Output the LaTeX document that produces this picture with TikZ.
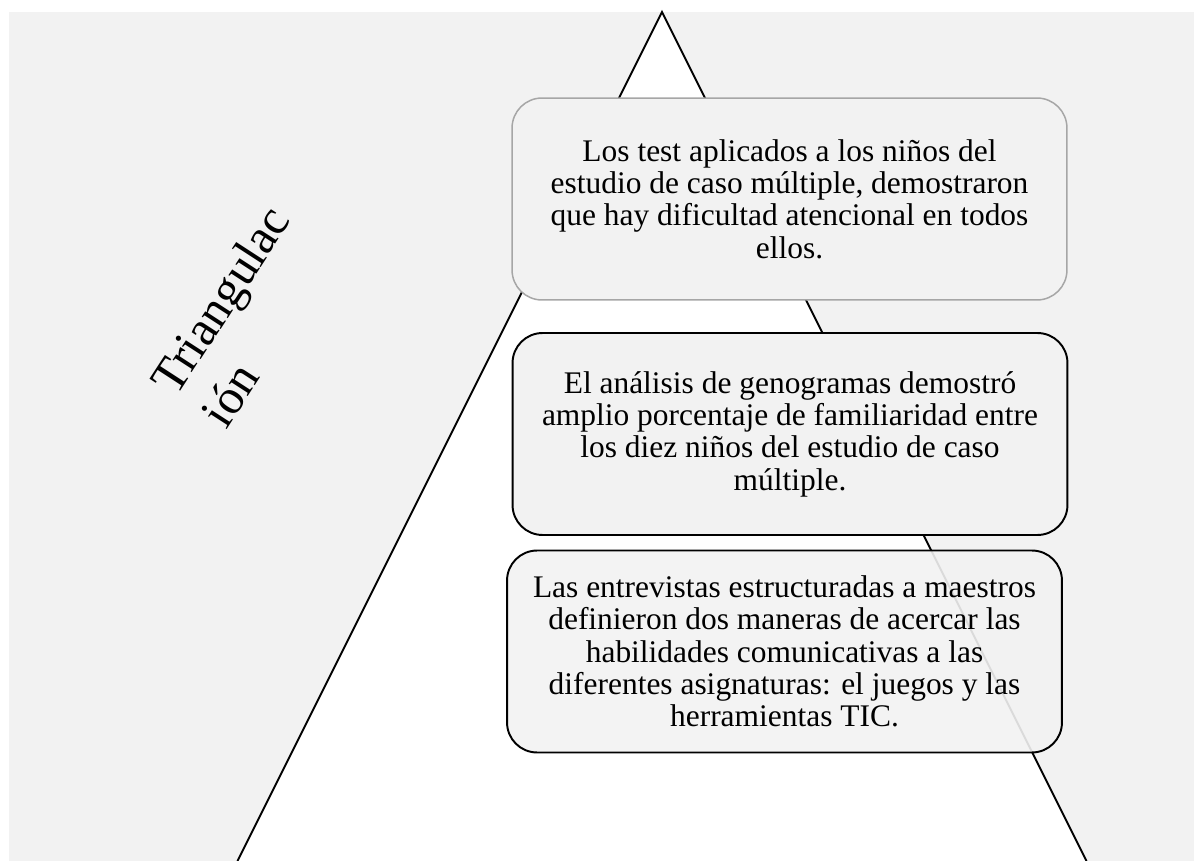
\documentclass[tikz,border=0pt]{standalone}
\usepackage{fontspec}
\setmainfont{Liberation Serif}
\usepackage{xcolor}
\usetikzlibrary{positioning}
\definecolor{bggray}{HTML}{F2F2F2}
\definecolor{edgegray}{HTML}{A6A6A6}

\begin{document}
\begin{tikzpicture}[
    x=0.02cm, y=-0.02cm,
    box/.style={rectangle, draw=black, line width=1.1pt, fill=bggray, rounded corners=0.6cm, minimum width=11.1cm, minimum height=4.04cm, inner sep=0pt, align=center, font=\fontsize{17.9}{18.4}\selectfont},
    tri/.style={draw=black, line width=1.1pt, fill=white},
    title/.style={rotate=57, align=left, font=\fontsize{28}{34}\selectfont}
]

% Background
\useasboundingbox (0,0) rectangle (1194,861);
\fill[bggray] (9,12) rectangle (1194,861);

% Triangle
\coordinate (apex) at (662,12);
\coordinate (baseL) at (237.5,861);
\coordinate (baseR) at (1086.5,861);
\draw[tri] (baseL) -- (apex) -- (baseR);

% Nodes
\node[box, draw=edgegray, line width=0.85pt] (tests) at (789.5,199) {Los test aplicados a los niños del\\estudio de caso múltiple, demostraron\\que hay dificultad atencional en todos\\ellos.};
\node[box] (genogramas) at (790,434) {El análisis de genogramas demostró\\amplio porcentaje de familiaridad entre\\los diez niños del estudio de caso\\múltiple.};
\node[box, fill opacity=0.9, text opacity=1] (entrevistas) at (784.5,651.5) {Las entrevistas estructuradas a maestros\\definieron dos maneras de acercar las\\habilidades comunicativas a las\\diferentes asignaturas: el juegos y las\\herramientas TIC.};
\node[title] (triang) at (245,316) {Triangulac\\ión};

\end{tikzpicture}
\end{document}
